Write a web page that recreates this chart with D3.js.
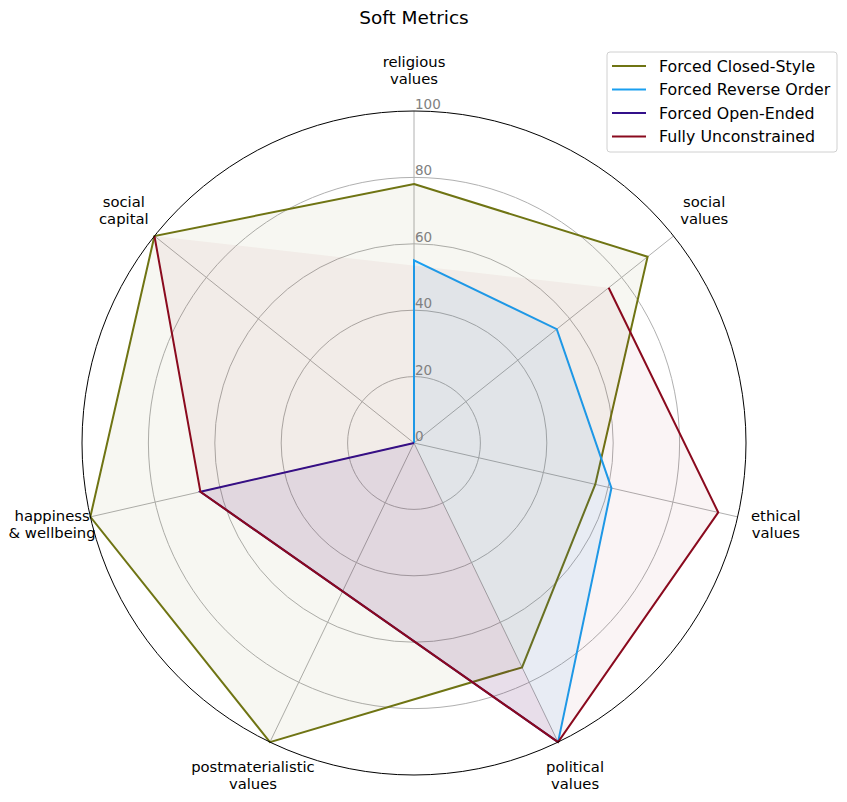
<!DOCTYPE html>
<html>
<head>
<meta charset="utf-8">
<script src="https://cdn.jsdelivr.net/npm/d3@7"></script>
<style>
  body { margin: 0; background: #fff; }
  svg { font-family: "DejaVu Sans", sans-serif; }
</style>
</head>
<body>
<div id="chart"></div>
<script>
// axes, clockwise from the top
const axes = [
  ["religious", "values"],
  ["social", "values"],
  ["ethical", "values"],
  ["political", "values"],
  ["postmaterialistic", "values"],
  ["happiness", "& wellbeing"],
  ["social", "capital"]
];
const ticks = [0, 20, 40, 60, 80, 100];

// null = no value for that axis
const closedStyle   = [78, 90, 56, 75, 100, 100, 100];
const reverseOrder  = [55, 55, 61, 100, null, null, 0];
const openEnded     = [null, null, null, 100, null, 66, 0];
const unconstrained = [null, 75, 94, 100, null, 66, 100];

const series = [
  { name: "Forced Closed-Style", values: closedStyle,   color: "#6f7413", alpha: 0.055, start: 0 },
  { name: "Forced Reverse Order", values: reverseOrder, color: "#1a9ff0", alpha: 0.08, start: 6 },
  { name: "Forced Open-Ended", values: openEnded,       color: "#33108a", alpha: 0.09, start: 0 },
  { name: "Fully Unconstrained", values: unconstrained, color: "#8a0a1e", alpha: 0.045, start: 0 }
];

const width = 847, height = 802;
const cx = 414, cy = 443, R = 332;

const svg = d3.select("#chart").append("svg")
  .attr("width", width)
  .attr("height", height);

const r = d3.scaleLinear().domain([0, 100]).range([0, R]);
const angle = d3.scaleLinear().domain([0, axes.length]).range([0, 2 * Math.PI]);

const pt = (i, v) => [cx + r(v) * Math.sin(angle(i)), cy - r(v) * Math.cos(angle(i))];

// grid
const grid = svg.append("g");
grid.selectAll("circle")
  .data(ticks.filter(t => t > 0 && t < 100))
  .join("circle")
  .attr("cx", cx).attr("cy", cy)
  .attr("r", d => r(d))
  .attr("fill", "none")
  .attr("stroke", "#b0b0b0")
  .attr("stroke-width", 1);

grid.selectAll("line")
  .data(axes)
  .join("line")
  .attr("x1", cx).attr("y1", cy)
  .attr("x2", (d, i) => pt(i, 100)[0])
  .attr("y2", (d, i) => pt(i, 100)[1])
  .attr("stroke", "#b0b0b0")
  .attr("stroke-width", 1);

// series
series.forEach(s => {
  const n = s.values.length;
  const idx = d3.range(n).map(k => (k + s.start) % n).filter(i => s.values[i] !== null);
  const pts = idx.map(i => pt(i, s.values[i]));
  const allDefined = idx.length === n;

  svg.append("path")
    .attr("d", d3.line()(pts) + "Z")
    .attr("fill", s.color)
    .attr("fill-opacity", s.alpha)
    .attr("stroke", "none");

  svg.append("path")
    .attr("d", d3.line()(pts) + (allDefined ? "Z" : ""))
    .attr("fill", "none")
    .attr("stroke", s.color)
    .attr("stroke-width", 2)
    .attr("stroke-linejoin", "miter");
});

// outer spine
svg.append("circle")
  .attr("cx", cx).attr("cy", cy).attr("r", R)
  .attr("fill", "none")
  .attr("stroke", "#000")
  .attr("stroke-width", 1);

// tick labels
svg.append("g").selectAll("text")
  .data(ticks)
  .join("text")
  .attr("x", cx + 1)
  .attr("y", d => cy - r(d) - 2)
  .attr("fill", "#808080")
  .attr("font-size", 13.5)
  .text(d => d);

// axis labels
const labels = svg.append("g").selectAll("text")
  .data(axes)
  .join("text")
  .attr("text-anchor", "middle")
  .attr("font-size", 14.8)
  .attr("fill", "#000");
labels.each(function(d, i) {
  const [x, y] = pt(i, 111.8);
  d3.select(this).selectAll("tspan")
    .data(d)
    .join("tspan")
    .attr("x", x)
    .attr("y", (t, j) => y - 2 + (j === 0 ? -3 : 14))
    .text(t => t);
});

// title
svg.append("text")
  .attr("x", cx).attr("y", 24)
  .attr("text-anchor", "middle")
  .attr("font-size", 18.5)
  .text("Soft Metrics");

// legend
const lg = svg.append("g").attr("transform", "translate(607,52)");
lg.append("rect")
  .attr("width", 230).attr("height", 100)
  .attr("rx", 3)
  .attr("fill", "#fff")
  .attr("fill-opacity", 0.8)
  .attr("stroke", "#d0d0d0");
const items = lg.selectAll("g.item")
  .data(series)
  .join("g")
  .attr("class", "item")
  .attr("transform", (d, i) => `translate(0,${14 + i * 23.5})`);
items.append("line")
  .attr("x1", 5).attr("x2", 39)
  .attr("stroke", d => d.color)
  .attr("stroke-width", 2);
items.append("text")
  .attr("x", 52).attr("y", 5.5)
  .attr("font-size", 15.8)
  .text(d => d.name);
</script>
</body>
</html>
